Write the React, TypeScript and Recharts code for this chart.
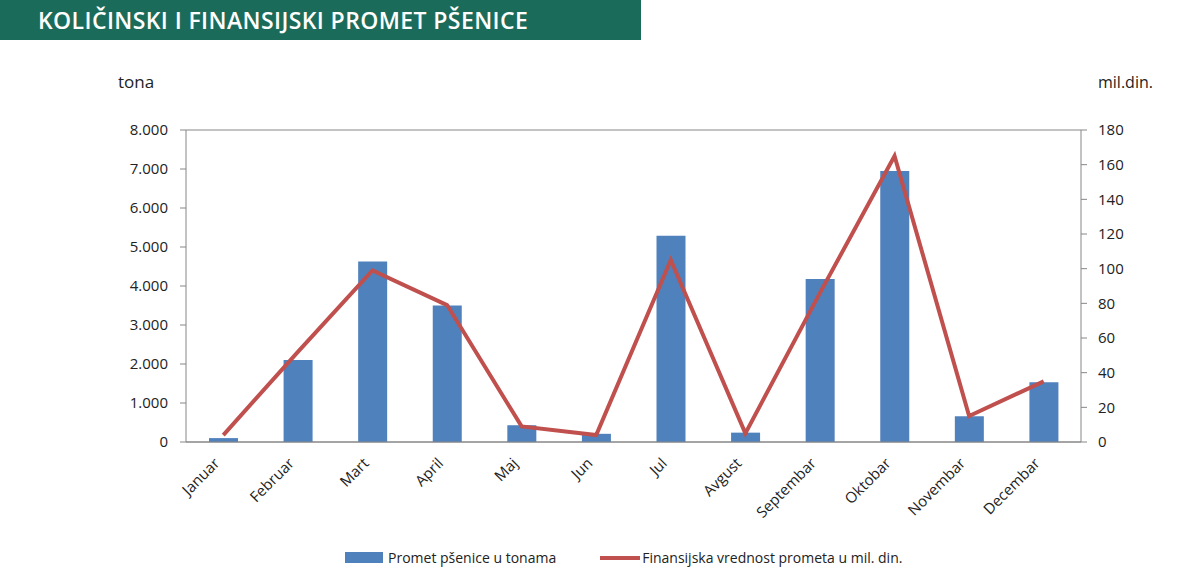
import React from "react"
import {
    ComposedChart,
    Bar,
    Line,
    XAxis,
    YAxis,
    CartesianGrid
} from "recharts"

const months = ["Januar", "Februar", "Mart", "April", "Maj", "Jun", "Jul", "Avgust", "Septembar", "Oktobar", "Novembar", "Decembar"]
const tonnes = [100, 2100, 4630, 3500, 430, 210, 5290, 240, 4180, 6950, 660, 1530]
const value = [4, 52, 99, 79, 9, 4, 105, 5, 86, 165, 15, 35]
const leftTicks = [0, 1000, 2000, 3000, 4000, 5000, 6000, 7000, 8000]
const rightTicks = [0, 20, 40, 60, 80, 100, 120, 140, 160, 180]
const boundaryTicks = [0, 1, 2, 3, 4, 5, 6, 7, 8, 9, 10, 11, 12]

const data = months.map((m, i) => ({ month: m, tonnes: tonnes[i], value: value[i], idx: i + 0.5 }))

const font = "'Open Sans', sans-serif"
const blue = "#4f81bd"
const red = "#c0504d"
const axisColor = "#868686"

const fmt = (v: number) => v.toLocaleString("de-DE")

const MonthTick = (props: any) => {
    const { x, y, payload } = props
    return (
        <g transform={`translate(${x - 7},${y + 10})`}>
            <text transform="rotate(-45)" textAnchor="end" dominantBaseline="central"
                fontSize={15} fill="#222" fontFamily={font}>{payload.value}</text>
        </g>
    )
}

export default function App() {
    return (
        <div style={{ position: "absolute", left: 0, top: 0, width: 1200, height: 587, background: "#fff", fontFamily: font }}>
            <div style={{
                position: "absolute", left: 0, top: 0, width: 641, height: 40, background: "#1b6b5a",
                color: "#fff", fontSize: 23, fontWeight: 600, lineHeight: "40px", paddingLeft: 38, boxSizing: "border-box",
                letterSpacing: 0.4, whiteSpace: "nowrap"
            }}>KOLIČINSKI I FINANSIJSKI PROMET PŠENICE</div>
            <div style={{ position: "absolute", left: 118, top: 70, fontSize: 17, color: "#222" }}>tona</div>
            <div style={{ position: "absolute", left: 1098, top: 71, fontSize: 16, color: "#222" }}>mil.din.</div>

            <ComposedChart width={1200} height={587} data={data}
                margin={{ top: 130, right: 59, left: 126, bottom: 65 }}>
                <CartesianGrid vertical={false} stroke={axisColor} strokeWidth={1} />
                <XAxis xAxisId="b" type="number" dataKey="idx" domain={[0, 12]} ticks={boundaryTicks}
                    tick={false} axisLine={false} tickLine={{ stroke: axisColor }} tickSize={6} height={0} />
                <XAxis dataKey="month" interval={0} tickLine={false} axisLine={{ stroke: axisColor }}
                    tick={<MonthTick />} height={80} />
                <YAxis yAxisId="left" domain={[0, 8000]} ticks={leftTicks} tickFormatter={fmt}
                    width={60} axisLine={{ stroke: axisColor }} tickLine={{ stroke: axisColor }} tickSize={6} tickMargin={12}
                    tick={{ fontSize: 15, fill: "#222", fontFamily: font }} interval={0} />
                <YAxis yAxisId="right" orientation="right" domain={[0, 180]} ticks={rightTicks}
                    width={60} axisLine={{ stroke: axisColor }} tickLine={{ stroke: axisColor }} tickSize={6} tickMargin={11}
                    tick={{ fontSize: 15, fill: "#222", fontFamily: font, textAnchor: "start" }} interval={0} />
                <Bar yAxisId="left" dataKey="tonnes" fill={blue} barSize={29} isAnimationActive={false} />
                <Line yAxisId="right" dataKey="value" stroke={red} strokeWidth={4} dot={false}
                    type="linear" isAnimationActive={false} />
            </ComposedChart>

            <div style={{ position: "absolute", left: 345, top: 548, display: "flex", alignItems: "center", fontSize: 14, color: "#222" }}>
                <span style={{ display: "inline-block", width: 38, height: 11, background: blue, marginRight: 5 }} />
                <span>Promet pšenice u tonama</span>
                <span style={{ display: "inline-block", width: 40, height: 4, background: red, marginLeft: 44, marginRight: 2 }} />
                <span>Finansijska vrednost prometa u mil. din.</span>
            </div>
        </div>
    )
}
